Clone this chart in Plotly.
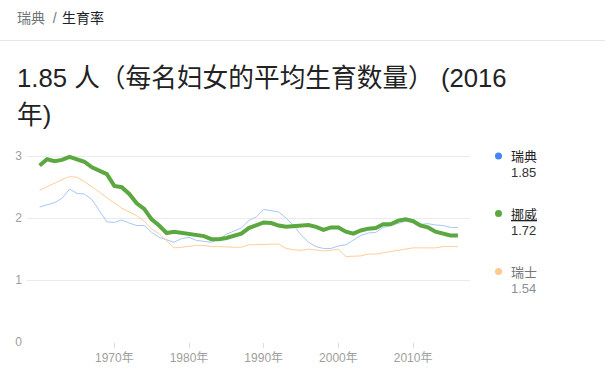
import plotly.graph_objects as go

years = list(range(1960, 2017))

sweden = [2.18, 2.21, 2.25, 2.32, 2.47, 2.40, 2.39, 2.30, 2.11, 1.94,
          1.93, 1.97, 1.92, 1.88, 1.88, 1.77, 1.69, 1.65, 1.61, 1.67,
          1.69, 1.64, 1.63, 1.61, 1.66, 1.74, 1.79, 1.84, 1.96, 2.02,
          2.14, 2.12, 2.10, 2.00, 1.88, 1.73, 1.61, 1.54, 1.51, 1.51,
          1.55, 1.57, 1.65, 1.72, 1.76, 1.77, 1.85, 1.88, 1.91, 1.94,
          1.98, 1.90, 1.91, 1.89, 1.88, 1.85, 1.85]

norway = [2.85, 2.95, 2.92, 2.94, 2.99, 2.95, 2.91, 2.82, 2.76, 2.71,
          2.52, 2.50, 2.39, 2.24, 2.15, 1.98, 1.88, 1.76, 1.78, 1.76,
          1.74, 1.72, 1.71, 1.66, 1.66, 1.68, 1.71, 1.75, 1.84, 1.89,
          1.93, 1.92, 1.88, 1.86, 1.87, 1.87, 1.89, 1.86, 1.81, 1.85,
          1.85, 1.78, 1.75, 1.80, 1.83, 1.84, 1.90, 1.90, 1.96, 1.98,
          1.95, 1.88, 1.85, 1.78, 1.75, 1.72, 1.72]

switzerland = [2.45, 2.51, 2.56, 2.62, 2.67, 2.66, 2.59, 2.51, 2.42, 2.33,
               2.24, 2.16, 2.10, 2.04, 1.95, 1.82, 1.75, 1.64, 1.52, 1.53,
               1.55, 1.56, 1.56, 1.54, 1.54, 1.53, 1.53, 1.53, 1.57, 1.57,
               1.58, 1.58, 1.58, 1.51, 1.49, 1.48, 1.50, 1.48, 1.47, 1.48,
               1.50, 1.38, 1.39, 1.39, 1.42, 1.42, 1.44, 1.46, 1.48, 1.50,
               1.52, 1.52, 1.52, 1.52, 1.54, 1.54, 1.54]

series_names = ["瑞典", "挪威", "瑞士"]
latest_values = ["1.85", "1.72", "1.54"]
tick_years = [1970, 1980, 1990, 2000, 2010]
tick_labels = ["1970年", "1980年", "1990年", "2000年", "2010年"]
y_ticks = [0, 1, 2, 3]

W, H = 605, 376
ML, MR, MT, MB = 27, 135, 150, 34
PW, PH = W - ML - MR, H - MT - MB

FONT = "Arial, 'Liberation Sans', 'Noto Sans CJK SC', sans-serif"


def px(x):
    return (x - ML) / PW


def py(y):
    return (H - MB - y) / PH


fig = go.Figure()
fig.add_trace(go.Scatter(x=years, y=sweden, mode="lines", name="瑞典",
                         line=dict(color="#a9c6f7", width=1)))
fig.add_trace(go.Scatter(x=years, y=switzerland, mode="lines", name="瑞士",
                         line=dict(color="#fccf9a", width=1)))
fig.add_trace(go.Scatter(x=years, y=norway, mode="lines", name="挪威",
                         line=dict(color="#5aa83f", width=4)))

annotations = []
shapes = []

# breadcrumb
annotations.append(dict(xref="paper", yref="paper", x=px(15), y=py(18),
                        xanchor="left", yanchor="middle", showarrow=False,
                        text="瑞典&nbsp; /",
                        font=dict(family=FONT, size=14, color="#70757a")))
annotations.append(dict(xref="paper", yref="paper", x=px(59.5), y=py(18),
                        xanchor="left", yanchor="middle", showarrow=False,
                        text="生育率",
                        font=dict(family=FONT, size=14, color="#202124")))
shapes.append(dict(type="line", xref="paper", yref="paper",
                   x0=px(0), x1=px(W), y0=py(40.5), y1=py(40.5),
                   line=dict(color="#e6e6e6", width=1)))

# title
TS = 25.7
annotations.append(dict(xref="paper", yref="paper", x=px(14.5), y=py(78),
                        xanchor="left", yanchor="middle", showarrow=False,
                        text="1.85 人（每名妇女的平均生育数量） (2016",
                        font=dict(family=FONT, size=TS, color="#222222")))
annotations.append(dict(xref="paper", yref="paper", x=px(14.5), y=py(115),
                        xanchor="left", yanchor="middle", showarrow=False,
                        text="年)",
                        font=dict(family=FONT, size=TS, color="#222222")))

# custom legend
dot_colors = ["#4285f4", "#5aa83f", "#fdc98c"]
name_colors = ["#222222", "#222222", "#777777"]
value_colors = ["#333333", "#333333", "#8a9099"]
dot_y = [156, 213.5, 271.5]
for i in range(3):
    cy = dot_y[i]
    shapes.append(dict(type="circle", xref="paper", yref="paper",
                       x0=px(498.5 - 3.5), x1=px(498.5 + 3.5),
                       y0=py(cy + 3.5), y1=py(cy - 3.5),
                       fillcolor=dot_colors[i], line=dict(width=0)))
    label = series_names[i]
    if i == 1:
        label = "<u>" + label + "</u>"
    annotations.append(dict(xref="paper", yref="paper", x=px(509), y=py(cy + 0.5),
                            xanchor="left", yanchor="middle", showarrow=False,
                            text=label,
                            font=dict(family=FONT, size=13, color=name_colors[i])))
    annotations.append(dict(xref="paper", yref="paper", x=px(509), y=py(cy + 16.5),
                            xanchor="left", yanchor="middle", showarrow=False,
                            text=latest_values[i],
                            font=dict(family=FONT, size=13, color=value_colors[i])))

fig.update_layout(
    width=W, height=H,
    margin=dict(l=ML, r=MR, t=MT, b=MB, pad=0),
    paper_bgcolor="white", plot_bgcolor="white",
    showlegend=False,
    font=dict(family=FONT),
    annotations=annotations,
    shapes=shapes,
    xaxis=dict(range=[1958.31, 2017.62], tickvals=tick_years, ticktext=tick_labels,
               showgrid=False, zeroline=False, showline=False,
               ticks="outside", ticklen=5, tickcolor="#dddddd", tickwidth=1,
               tickfont=dict(family=FONT, size=12, color="#9e9e9e"),
               fixedrange=True),
    yaxis=dict(range=[0, 3.1], tickvals=y_ticks,
               showgrid=True, gridcolor="#ebebeb", gridwidth=1,
               zeroline=False, showline=False, ticks="",
               tickfont=dict(family=FONT, size=12, color="#9e9e9e"),
               ticklabelstandoff=4,
               fixedrange=True),
)

fig.write_html("out.html", config={"displayModeBar": False},
               post_script="document.body.style.margin='0';document.body.style.overflow='hidden';")
